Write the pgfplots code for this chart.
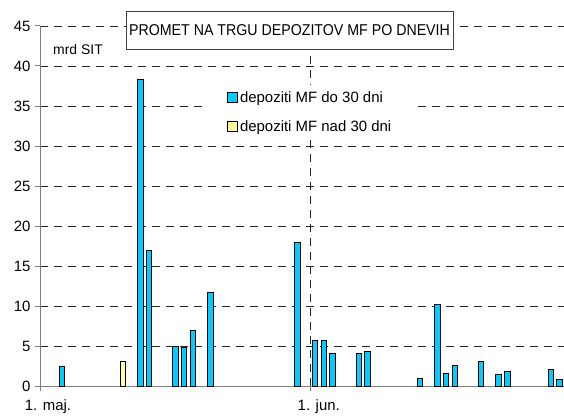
\documentclass[border=0pt]{standalone}
\usepackage{pgfplots}
\pgfplotsset{compat=1.18}
\usepackage{fontspec}
\setmainfont{Liberation Sans}
\definecolor{cyanbar}{RGB}{0,204,255}
\definecolor{yelbar}{RGB}{255,255,153}
\definecolor{axgray}{RGB}{128,128,128}
\begin{document}
\begin{tikzpicture}[x=1bp,y=1bp]
\useasboundingbox (0,0) rectangle (564,416);
\begin{axis}[
  at={(40bp,30bp)}, anchor=south west,
  scale only axis, width=524bp, height=360bp,
  xmin=-0.5, xmax=59.5, ymin=0, ymax=45,
  axis x line*=bottom, axis y line*=left,
  axis line style={axgray, line width=1bp},
  ytick={0,5,...,45},
  xtick={-0.5,30.5}, xticklabels={1. maj.,1. jun.},
  tick align=outside, major tick length=5bp,
  tick style={axgray, line width=1bp},
  ymajorgrids, xmajorgrids,
  major grid style={black!85, line width=0.9bp, dash pattern=on 8bp off 6bp},
  /pgf/number format/assume math mode=true,
  ticklabel style={font=\fontsize{15}{16}\selectfont},
  yticklabel style={xshift=-1bp},
  xticklabel style={xshift=8bp, yshift=-5bp},
  ybar, bar width=5.5bp, bar shift=0pt,
  every axis plot/.append style={draw=black, line width=0.9bp},
  legend style={at={(axis description cs:0.311,0.836)}, anchor=north west,
    draw=none, fill=white, font=\fontsize{15}{17}\selectfont,
    inner xsep=24bp, inner ysep=4bp, row sep=13bp,
    /tikz/every even column/.append style={column sep=0bp}},
  legend image code/.code={\draw[#1, draw=black, line width=0.9bp] (0bp,-5bp) rectangle (10bp,5bp);},
  legend cell align=left,
]
\addplot[fill=cyanbar] coordinates {
 (2,2.5) (11,38.3) (12,16.9) (15,5.0) (16,4.8) (17,6.9) (19,11.7) (29,18.0)
 (31,5.75) (32,5.75) (33,4.1) (36,4.1) (37,4.3) (43,1.0) (45,10.2) (46,1.55)
 (47,2.55) (50,3.1) (52,1.4) (53,1.8) (58,2.1) (59,0.85)};
\addlegendentry{depoziti MF do 30 dni}
\addplot[fill=yelbar] coordinates {(9,3.1)};
\addlegendentry{depoziti MF nad 30 dni}
\end{axis}
\node[draw=black!75, line width=1bp, fill=white, minimum width=327bp, minimum height=37bp, inner sep=0pt,
  font=\fontsize{15}{17}\selectfont] at (289.5,385.5) {\scalebox{0.95}[1.05]{PROMET NA TRGU DEPOZITOV MF PO DNEVIH}};
\node[font=\fontsize{14}{15}\selectfont, anchor=west, inner sep=0pt] at (53,366) {mrd SIT};
\end{tikzpicture}
\end{document}
